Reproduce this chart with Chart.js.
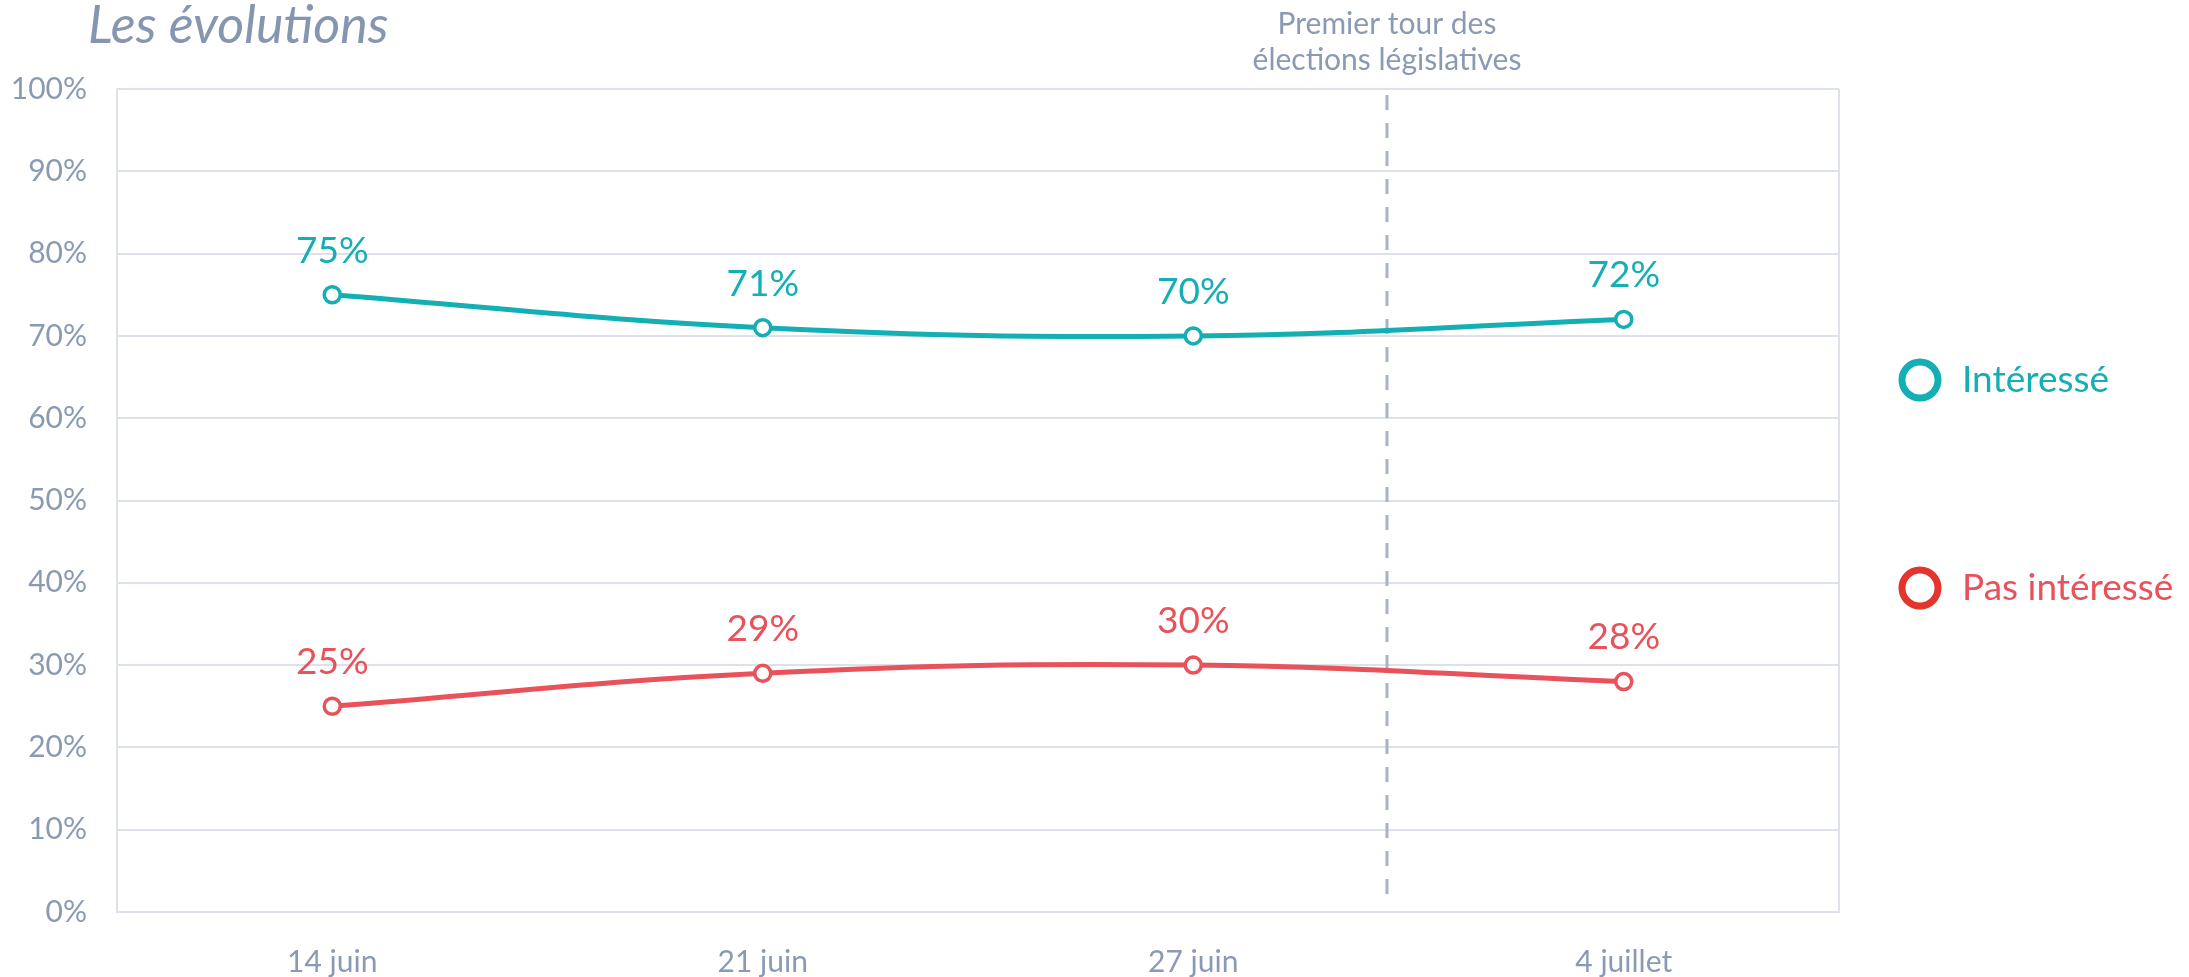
<!DOCTYPE html>
<html lang="fr">
<head>
<meta charset="utf-8">
<title>Les évolutions</title>
<script src="https://cdn.jsdelivr.net/npm/chart.js@4.4.1/dist/chart.umd.min.js"></script>
<style>
  html, body { margin: 0; padding: 0; background: #fff; }
</style>
</head>
<body>
<canvas id="evolChart" width="2189" height="977"></canvas>
<script>
// data
var dates = ['14 juin', '21 juin', '27 juin', '4 juillet'];
var interesse = [75, 71, 70, 72];
var pasInteresse = [25, 29, 30, 28];
var seriesNames = ['Intéressé', 'Pas intéressé'];
var electionPos = 2.45; // between 27 juin and 4 juillet
var electionLabel = ['Premier tour des', 'élections législatives'];
var chartTitle = 'Les évolutions';

// colors
var teal = '#14afb4';
var red = '#e8525a';
var legendColors = ['#14afb4', '#e3352c'];
var gridColor = '#dce1ea';
var textColor = '#8a9ab3';
var fontFamily = 'Lato, "Open Sans", sans-serif';

var overlay = {
    id: 'overlay',
    beforeDatasetsDraw: function (chart) {
        var ctx = chart.ctx, a = chart.chartArea;
        ctx.save();
        // right side of the frame
        ctx.strokeStyle = gridColor;
        ctx.lineWidth = 2;
        ctx.beginPath();
        ctx.moveTo(a.right, a.top);
        ctx.lineTo(a.right, a.bottom);
        ctx.stroke();

        // election marker
        var px = chart.scales.x.getPixelForValue(electionPos);
        ctx.strokeStyle = '#a9b3c6';
        ctx.lineWidth = 3;
        ctx.setLineDash([15, 13]);
        ctx.beginPath();
        ctx.moveTo(px, a.top + 6);
        ctx.lineTo(px, a.bottom - 14);
        ctx.stroke();
        ctx.setLineDash([]);

        ctx.fillStyle = textColor;
        ctx.font = '30px ' + fontFamily;
        ctx.textAlign = 'center';
        ctx.textBaseline = 'middle';
        ctx.fillText(electionLabel[0], px, 24);
        ctx.fillText(electionLabel[1], px, 60);

        // title
        ctx.font = 'italic 52px ' + fontFamily;
        ctx.fillStyle = '#8596b0';
        ctx.textAlign = 'left';
        ctx.fillText(chartTitle, 88, 26);
        ctx.restore();
    },
    afterDatasetsDraw: function (chart) {
        var ctx = chart.ctx;
        ctx.save();
        ctx.font = '37px ' + fontFamily;
        ctx.textAlign = 'center';
        ctx.textBaseline = 'middle';
        chart.data.datasets.forEach(function (ds, i) {
            var meta = chart.getDatasetMeta(i);
            ctx.fillStyle = ds.borderColor;
            meta.data.forEach(function (pt, j) {
                ctx.fillText(ds.data[j] + '%', pt.x, pt.y - 44);
            });
        });

        // legend
        var legendY = [380, 588];
        ctx.font = '37px ' + fontFamily;
        ctx.textAlign = 'left';
        chart.data.datasets.forEach(function (ds, i) {
            ctx.strokeStyle = legendColors[i];
            ctx.lineWidth = 7;
            ctx.beginPath();
            ctx.arc(1920, legendY[i], 18, 0, Math.PI * 2);
            ctx.stroke();
            ctx.fillStyle = ds.borderColor;
            ctx.fillText(ds.label, 1962, legendY[i]);
        });
        ctx.restore();
    }
};

var ctx = document.getElementById('evolChart').getContext('2d');
var evolChart = new Chart(ctx, {
    type: 'line',
    data: {
        labels: dates,
        datasets: [{
            label: seriesNames[0],
            data: interesse,
            borderColor: teal,
            backgroundColor: '#fff',
            borderWidth: 5,
            pointRadius: 8,
            pointBorderWidth: 3.5,
            pointBackgroundColor: '#fff',
            tension: 0.4
        }, {
            label: seriesNames[1],
            data: pasInteresse,
            borderColor: red,
            backgroundColor: '#fff',
            borderWidth: 5,
            pointRadius: 8,
            pointBorderWidth: 3.5,
            pointBackgroundColor: '#fff',
            tension: 0.4
        }]
    },
    options: {
        responsive: false,
        animation: false,
        layout: {
            padding: { top: 89, right: 350, left: 0, bottom: 0 }
        },
        plugins: {
            legend: { display: false },
            tooltip: { enabled: false }
        },
        scales: {
            x: {
                offset: true,
                grid: { display: false },
                border: { display: true, color: gridColor, width: 2 },
                ticks: {
                    color: textColor,
                    padding: 24,
                    font: { family: fontFamily, size: 30 }
                },
                afterFit: function (scale) { scale.height = 65; }
            },
            y: {
                min: 0,
                max: 100,
                ticks: {
                    stepSize: 10,
                    color: textColor,
                    padding: 30,
                    font: { family: fontFamily, size: 30 },
                    callback: function (v) { return v + '%'; }
                },
                grid: { color: gridColor, lineWidth: 2, drawTicks: false },
                border: { display: true, color: gridColor, width: 2 },
                afterFit: function (scale) { scale.width = 117; }
            }
        }
    },
    plugins: [overlay]
});
</script>
</body>
</html>
